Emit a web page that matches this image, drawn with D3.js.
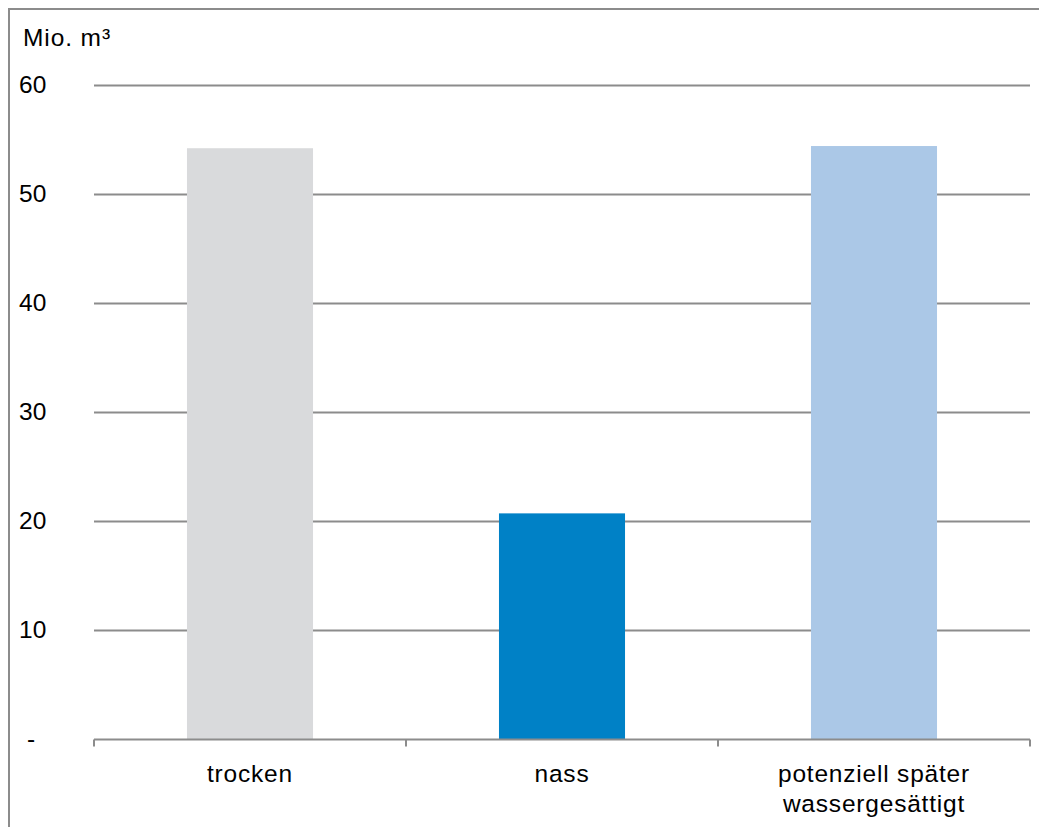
<!DOCTYPE html>
<html>
<head>
<meta charset="utf-8">
<script src="https://cdn.jsdelivr.net/npm/d3@7"></script>
<style>
  html, body { margin: 0; padding: 0; background: #fff; }
  svg { display: block; }
  text { font-family: "Liberation Sans", Arial, sans-serif; fill: #000; }
</style>
</head>
<body>
<svg id="chart" width="1039" height="827"></svg>
<script>
const categories = ["trocken", "nass", "potenziell später\nwassergesättigt"];
const values = [54.2, 20.7, 54.4];
const barColors = ["#D9DADC", "#0081C6", "#ABC8E7"];
const yTicks = [0, 10, 20, 30, 40, 50, 60];
const yTickLabels = ["-", "10", "20", "30", "40", "50", "60"];
const unitLabel = "Mio. m³";

const svg = d3.select("#chart");
const W = 1039, H = 827;
const plot = { left: 94, right: 1030, top: 85, bottom: 739 };

// frame
svg.append("path")
  .attr("d", `M9,${H} L9,9 L${W + 2},9`)
  .attr("fill", "none")
  .attr("stroke", "#8C8C8C")
  .attr("stroke-width", 2);

const x = d3.scaleBand().domain(categories).range([plot.left, plot.right]).paddingInner(0.596).paddingOuter(0.298);
const xb = d3.scaleBand().domain(categories).range([plot.left, plot.right]);
const y = d3.scaleLinear().domain([0, 60]).range([plot.bottom, plot.top]);

// gridlines
svg.append("g").selectAll("line").data(yTicks.filter(d => d > 0)).join("line")
  .attr("x1", plot.left).attr("x2", plot.right)
  .attr("y1", d => Math.round(y(d)) + 0.5).attr("y2", d => Math.round(y(d)) + 0.5)
  .attr("stroke", "#8C8C8C").attr("stroke-width", 2);

// bars
svg.append("g").selectAll("rect").data(categories).join("rect")
  .attr("x", d => x(d))
  .attr("width", x.bandwidth())
  .attr("y", (d, i) => y(values[i]))
  .attr("height", (d, i) => y(0) - y(values[i]))
  .attr("fill", (d, i) => barColors[i]);

// x axis
const xAxis = svg.append("g").attr("transform", `translate(0,${plot.bottom + 0.5})`);
xAxis.append("line").attr("x1", plot.left).attr("x2", plot.right)
  .attr("stroke", "#8C8C8C").attr("stroke-width", 2);
const tickXs = categories.map(c => xb(c)).concat([plot.right]);
xAxis.selectAll("line.tick").data(tickXs).join("line").attr("class", "tick")
  .attr("x1", d => d).attr("x2", d => d).attr("y1", 0).attr("y2", 7)
  .attr("stroke", "#8C8C8C").attr("stroke-width", 2);

// x labels
svg.append("g").selectAll("text").data(categories).join("text")
  .attr("x", d => xb(d) + xb.bandwidth() / 2)
  .attr("y", 782)
  .attr("text-anchor", "middle")
  .style("font-size", "24.5px")
  .style("letter-spacing", "0.8px")
  .each(function (d) {
    const lines = d.split("\n");
    d3.select(this).selectAll("tspan").data(lines).join("tspan")
      .attr("x", xb(d) + xb.bandwidth() / 2)
      .attr("dy", (l, i) => i === 0 ? 0 : 30)
      .text(l => l);
  });

// y labels
svg.append("g").selectAll("text").data(yTicks).join("text")
  .attr("x", (d, i) => yTickLabels[i] === "-" ? 27 : 19)
  .attr("y", d => y(d) + 8)
  .style("font-size", "24.5px")
  .text((d, i) => yTickLabels[i]);

// unit label
svg.append("text").attr("x", 23).attr("y", 46)
  .style("font-size", "24.5px")
  .style("letter-spacing", "0.9px")
  .text(unitLabel);
</script>
</body>
</html>
